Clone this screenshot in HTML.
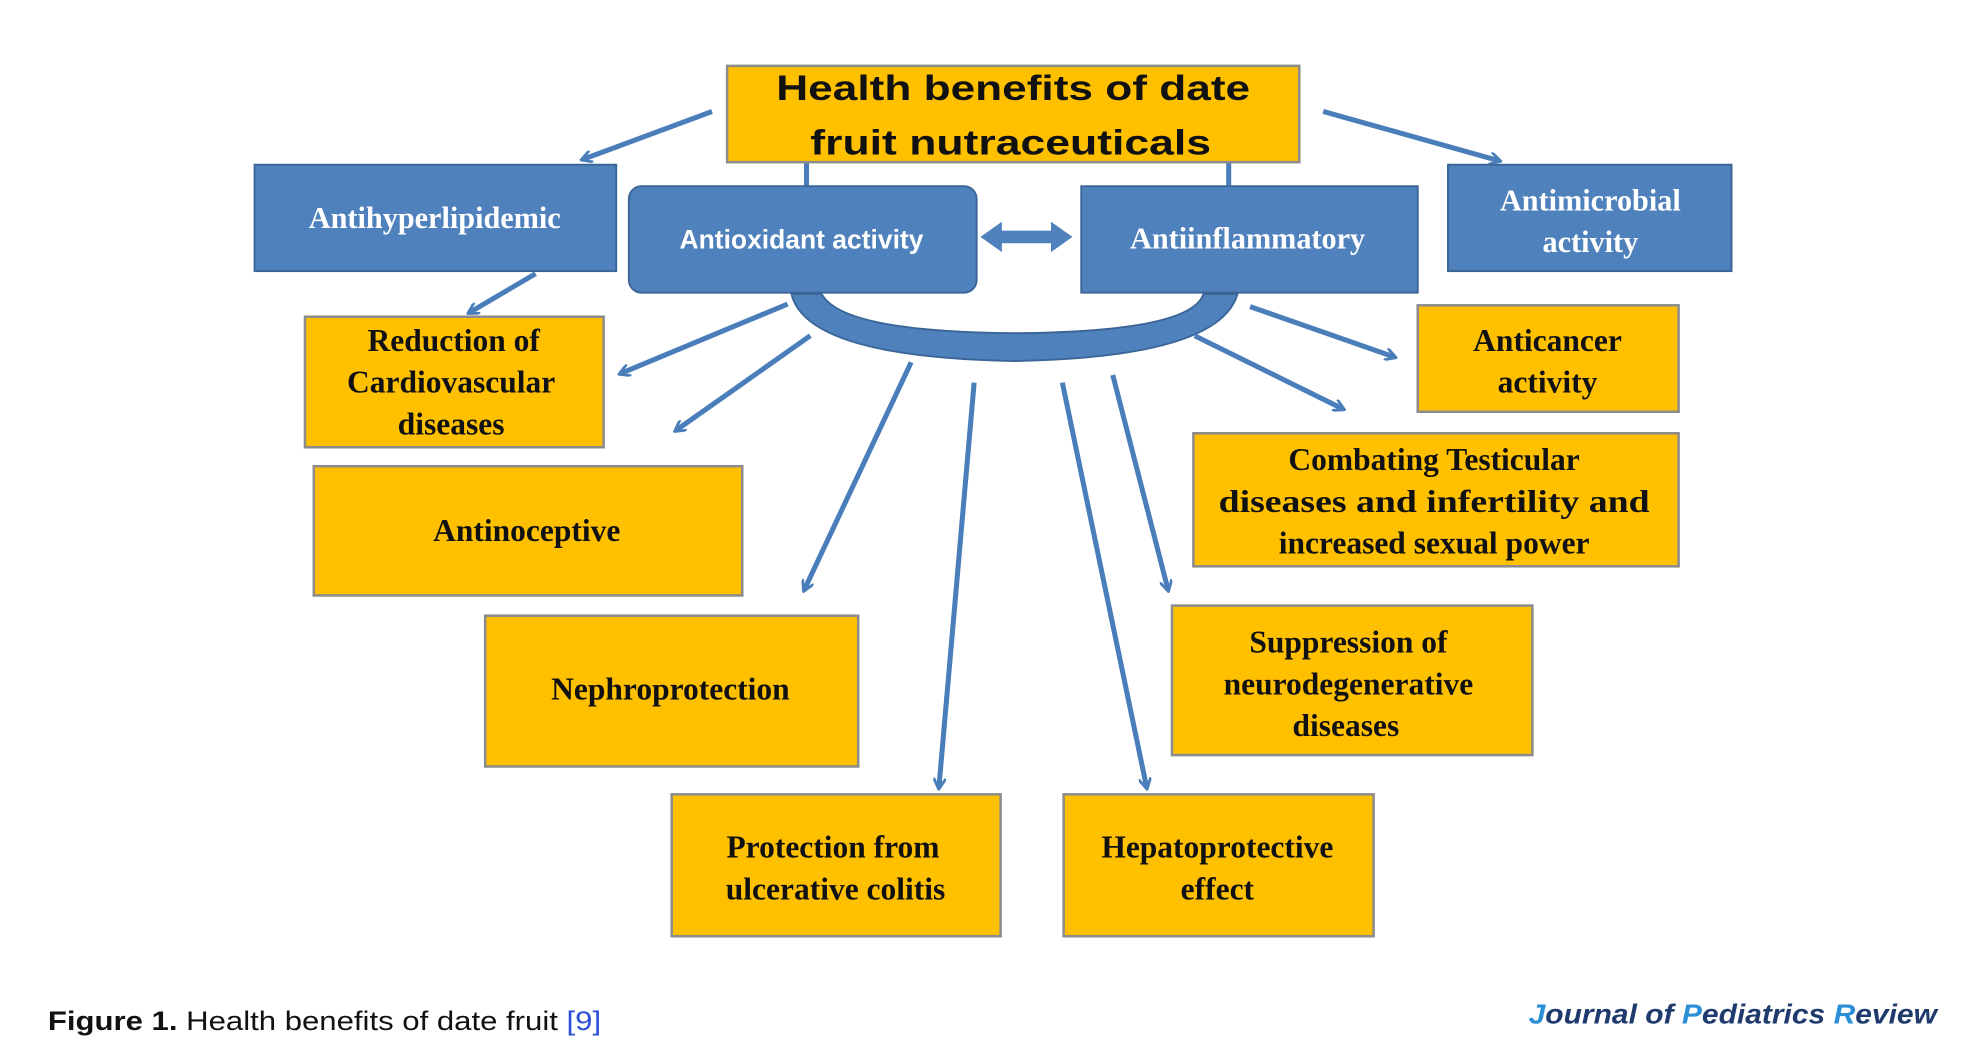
<!DOCTYPE html>
<html><head><meta charset="utf-8"><style>
html,body{margin:0;padding:0;background:#fff;}
svg{display:block;}
.y{fill:#ffc000;stroke:#8c8c8c;stroke-width:2;}
.b{fill:#4f81bd;stroke:#3a6596;stroke-width:1.5;}
.t{font-family:"Liberation Serif",serif;font-weight:bold;font-size:25px;fill:#111;text-anchor:middle;}
.w{font-family:"Liberation Serif",serif;font-weight:bold;font-size:24px;fill:#fff;text-anchor:middle;}
.ws{font-family:"Liberation Sans",sans-serif;font-weight:bold;font-size:21px;fill:#fff;text-anchor:middle;}
.a{stroke:#4a7ebb;stroke-width:4;fill:none;}
</style></head><body>
<svg width="1976" height="1049" viewBox="0 0 1568 828" preserveAspectRatio="none" xmlns="http://www.w3.org/2000/svg">
<defs><marker id="m" markerWidth="10" markerHeight="10" refX="8" refY="5" orient="auto" markerUnits="userSpaceOnUse" viewBox="0 0 10 10"><path d="M0,0 L9,5 L0,10" fill="none" stroke="#4a7ebb" stroke-width="2.2"/></marker></defs>
<line class="a" x1="640" y1="126" x2="640" y2="148" stroke-width="2"/>
<line class="a" x1="975" y1="126" x2="975" y2="148" stroke-width="2"/>
<path d="M628,232 Q640,282 805,285 Q968,282 982,232 L955,232 Q945,262 805,263 Q668,262 652,232 Z" fill="#4f81bd" stroke="#3a6596" stroke-width="1.5"/>
<g class="a" marker-end="url(#m)">
<line x1="565" y1="88" x2="462" y2="126"/>
<line x1="1050" y1="88" x2="1190" y2="127"/>
<line x1="425" y1="216" x2="372" y2="247"/>
<line x1="625" y1="240" x2="492" y2="295"/>
<line x1="643" y1="265" x2="536" y2="340"/>
<line x1="723" y1="286" x2="638" y2="466"/>
<line x1="773" y1="302" x2="745" y2="622"/>
<line x1="843" y1="302" x2="910" y2="622"/>
<line x1="883" y1="296" x2="927" y2="466"/>
<line x1="948" y1="265" x2="1066" y2="323"/>
<line x1="992" y1="242" x2="1107" y2="282"/>
</g>
<path d="M778,187 L795,175 L795,182 L834,182 L834,175 L851,187 L834,199 L834,192 L795,192 L795,199 Z" fill="#4f81bd"/>
<rect class="y" x="577" y="52" width="454" height="76"/>
<text x="804" y="79" font-family="Liberation Sans,sans-serif" font-weight="bold" font-size="28" fill="#111" text-anchor="middle" textLength="376" lengthAdjust="spacingAndGlyphs">Health benefits of date</text>
<text x="802" y="122" font-family="Liberation Sans,sans-serif" font-weight="bold" font-size="28" fill="#111" text-anchor="middle" textLength="318" lengthAdjust="spacingAndGlyphs">fruit nutraceuticals</text>
<rect class="b" x="202" y="130" width="287" height="84"/>
<text class="w" x="345" y="180">Antihyperlipidemic</text>
<rect class="b" x="499" y="147" width="276" height="84" rx="10"/>
<text class="ws" x="636" y="196">Antioxidant activity</text>
<rect class="b" x="858" y="147" width="267" height="84"/>
<text class="w" x="990" y="196">Antiinflammatory</text>
<rect class="b" x="1149" y="130" width="225" height="84"/>
<text class="w" x="1262" y="166">Antimicrobial</text>
<text class="w" x="1262" y="199">activity</text>
<rect class="y" x="242" y="250" width="237" height="103"/>
<text class="t" x="360" y="277">Reduction of</text>
<text class="t" x="358" y="310">Cardiovascular</text>
<text class="t" x="358" y="343">diseases</text>
<rect class="y" x="249" y="368" width="340" height="102"/>
<text class="t" x="418" y="427">Antinoceptive</text>
<rect class="y" x="385" y="486" width="296" height="119"/>
<text class="t" x="532" y="552">Nephroprotection</text>
<rect class="y" x="533" y="627" width="261" height="112"/>
<text class="t" x="661" y="677">Protection from</text>
<text class="t" x="663" y="710">ulcerative colitis</text>
<rect class="y" x="844" y="627" width="246" height="112"/>
<text class="t" x="966" y="677">Hepatoprotective</text>
<text class="t" x="966" y="710">effect</text>
<rect class="y" x="930" y="478" width="286" height="118"/>
<text class="t" x="1070" y="515">Suppression of</text>
<text class="t" x="1070" y="548">neurodegenerative</text>
<text class="t" x="1068" y="581">diseases</text>
<rect class="y" x="947" y="342" width="385" height="105"/>
<text class="t" x="1138" y="371">Combating Testicular</text>
<text class="t" x="1138" y="404" textLength="342" lengthAdjust="spacingAndGlyphs">diseases and infertility and</text>
<text class="t" x="1138" y="437">increased sexual power</text>
<rect class="y" x="1125" y="241" width="207" height="84"/>
<text class="t" x="1228" y="277">Anticancer</text>
<text class="t" x="1228" y="310">activity</text>
<text x="38" y="813" font-family="Liberation Sans,sans-serif" font-size="21" fill="#111" textLength="439" lengthAdjust="spacingAndGlyphs"><tspan font-weight="bold">Figure 1.</tspan> Health benefits of date fruit <tspan fill="#2b4fd6">[9]</tspan></text>
<text x="1213" y="808" font-family="Liberation Sans,sans-serif" font-size="22" font-weight="bold" font-style="italic" fill="#1f3b6e" textLength="324" lengthAdjust="spacingAndGlyphs"><tspan fill="#2a8fd6">J</tspan>ournal of <tspan fill="#2a8fd6">P</tspan>ediatrics <tspan fill="#2a8fd6">R</tspan>eview</text>
</svg>
</body></html>
